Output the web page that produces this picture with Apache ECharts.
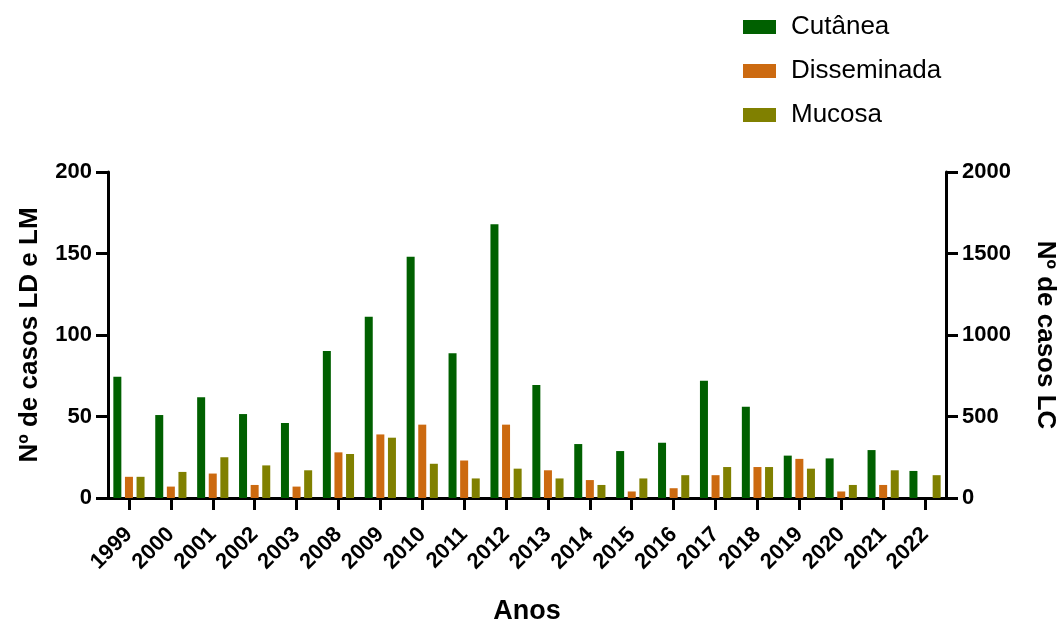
<!DOCTYPE html>
<html>
<head>
<meta charset="utf-8">
<script src="https://cdn.jsdelivr.net/npm/echarts@6/dist/echarts.min.js"></script>
<style>html,body{margin:0;padding:0;background:#fff;}#c{width:1062px;height:623px;}</style>
</head>
<body>
<div id="c"></div>
<script>
const anos = ['1999','2000','2001','2002','2003','2008','2009','2010','2011','2012','2013','2014','2015','2016','2017','2018','2019','2020','2021','2022'];
const cutanea = [744, 509, 618, 515, 460, 902, 1112, 1480, 888, 1679, 693, 331, 288, 339, 720, 560, 260, 243, 294, 166];
const disseminada = [13, 7, 15, 8, 7, 28, 39, 45, 23, 45, 17, 11, 4, 6, 14, 19, 24, 4, 8, 0];
const mucosa = [13, 16, 25, 20, 17, 27, 37, 21, 12, 18, 12, 8, 12, 14, 19, 19, 18, 8, 17, 14];
const leftTicks = [0, 50, 100, 150, 200];
const rightTicks = [0, 500, 1000, 1500, 2000];

const FONT = '"Liberation Sans", Arial, Helvetica, sans-serif';
const chart = echarts.init(document.getElementById('c'));
const axisLine = {show: true, lineStyle: {color: '#000', width: 3}};
const axisTick = {show: true, length: 12, lineStyle: {color: '#000', width: 3}};
const tickLabel = {color: '#000', fontFamily: FONT, fontWeight: 'bold', fontSize: 22};
const titleStyle = {color: '#000', fontFamily: FONT, fontWeight: 'bold', fontSize: 26};

chart.setOption({
  animation: false,
  backgroundColor: '#fff',
  legend: {
    orient: 'vertical',
    left: 738,
    top: 9,
    itemWidth: 33,
    itemHeight: 14,
    itemGap: 18,
    icon: 'rect',
    textStyle: {color: '#000', fontFamily: FONT, fontSize: 26, padding: [0, 0, 0, 10]},
    data: ['Cutânea', 'Disseminada', 'Mucosa']
  },
  grid: {left: 108, right: 116, top: 172, bottom: 125, containLabel: false, outerBoundsMode: 'none'},
  xAxis: {
    type: 'category',
    data: anos,
    name: 'Anos',
    nameLocation: 'middle',
    nameGap: 100,
    nameTextStyle: Object.assign({}, titleStyle, {fontSize: 27}),
    axisLine: axisLine,
    axisTick: Object.assign({alignWithLabel: true}, axisTick),
    axisLabel: Object.assign({}, tickLabel, {rotate: 45, margin: 33, interval: 0, fontSize: 22}),
    splitLine: {show: false}
  },
  yAxis: [
    {
      type: 'value', min: 0, max: 200, interval: 50,
      name: 'Nº de casos LD e LM', nameLocation: 'middle', nameGap: 65,
      nameTextStyle: titleStyle,
      axisLine: axisLine, axisTick: axisTick,
      axisLabel: Object.assign({margin: 16, customValues: leftTicks}, tickLabel),
      splitLine: {show: false}
    },
    {
      type: 'value', min: 0, max: 2000, interval: 500, position: 'right',
      name: 'Nº de casos LC', nameLocation: 'middle', nameGap: 86, nameRotate: -90,
      nameTextStyle: titleStyle,
      axisLine: axisLine, axisTick: axisTick,
      axisLabel: Object.assign({margin: 16, customValues: rightTicks, formatter: v => String(v)}, tickLabel),
      splitLine: {show: false}
    }
  ],
  series: [
    {name: 'Cutânea', type: 'bar', yAxisIndex: 1, data: cutanea, barWidth: 8, barGap: '45%',
     itemStyle: {color: '#006000'}},
    {name: 'Disseminada', type: 'bar', yAxisIndex: 0, data: disseminada, barWidth: 8, barGap: '45%',
     itemStyle: {color: '#CC6A10'}},
    {name: 'Mucosa', type: 'bar', yAxisIndex: 0, data: mucosa, barWidth: 8, barGap: '45%',
     itemStyle: {color: '#808000'}}
  ]
});
</script>
</body>
</html>
